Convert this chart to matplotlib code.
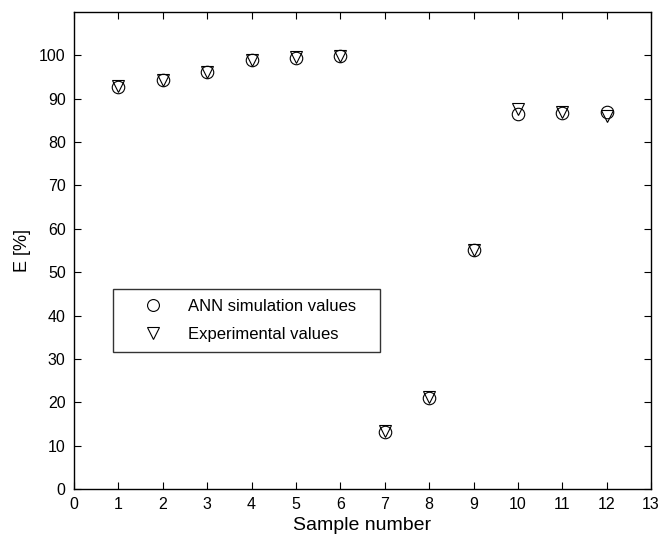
import matplotlib
matplotlib.use("Agg")
import matplotlib.pyplot as plt

samples = [1, 2, 3, 4, 5, 6, 7, 8, 9, 10, 11, 12]
ann_values = [92.7, 94.2, 96.1, 98.9, 99.4, 99.8, 13.2, 21.1, 55.1, 86.5, 86.7, 86.8]
exp_values = [92.8, 94.3, 96.2, 98.9, 99.5, 99.9, 13.3, 21.2, 55.2, 87.6, 87.0, 85.9]
x_ticks = list(range(0, 14))
y_ticks = list(range(0, 101, 10))

plt.rcParams['font.family'] = ['Liberation Sans', 'DejaVu Sans']

fig = plt.figure(figsize=(6.61, 5.38), dpi=100)
ax = fig.add_axes([0.112, 0.091, 0.873, 0.887])

ax.plot(samples, ann_values, linestyle='none', marker='o', markersize=9,
        markerfacecolor='none', markeredgecolor='black', markeredgewidth=0.8,
        label='ANN simulation values')
ax.plot(samples, exp_values, linestyle='none', marker='v', markersize=9,
        markerfacecolor='none', markeredgecolor='black', markeredgewidth=0.8,
        label='Experimental values')

ax.set_xlim(0, 13)
ax.set_ylim(0, 110)
ax.set_xticks(x_ticks)
ax.set_yticks(y_ticks)
ax.tick_params(direction='in', top=True, right=True, length=5, width=0.8,
               labelsize=11.5, colors='black', pad=6)
for s in ax.spines.values():
    s.set_linewidth(1.0)

ax.set_xlabel('Sample number', fontsize=14, labelpad=3)
ax.set_ylabel('E [%]', fontsize=13, labelpad=6)

leg = ax.legend(loc='lower left', bbox_to_anchor=(0.068, 0.287, 0.462, 0.128),
                mode='expand', borderaxespad=0, fontsize=12, frameon=True,
                fancybox=False, edgecolor='black', handletextpad=0.3,
                borderpad=0.6, labelspacing=0.8, handlelength=3.6,
                markerscale=0.95)
leg.get_frame().set_linewidth(1.0)

fig.savefig('out.png', dpi=100)
